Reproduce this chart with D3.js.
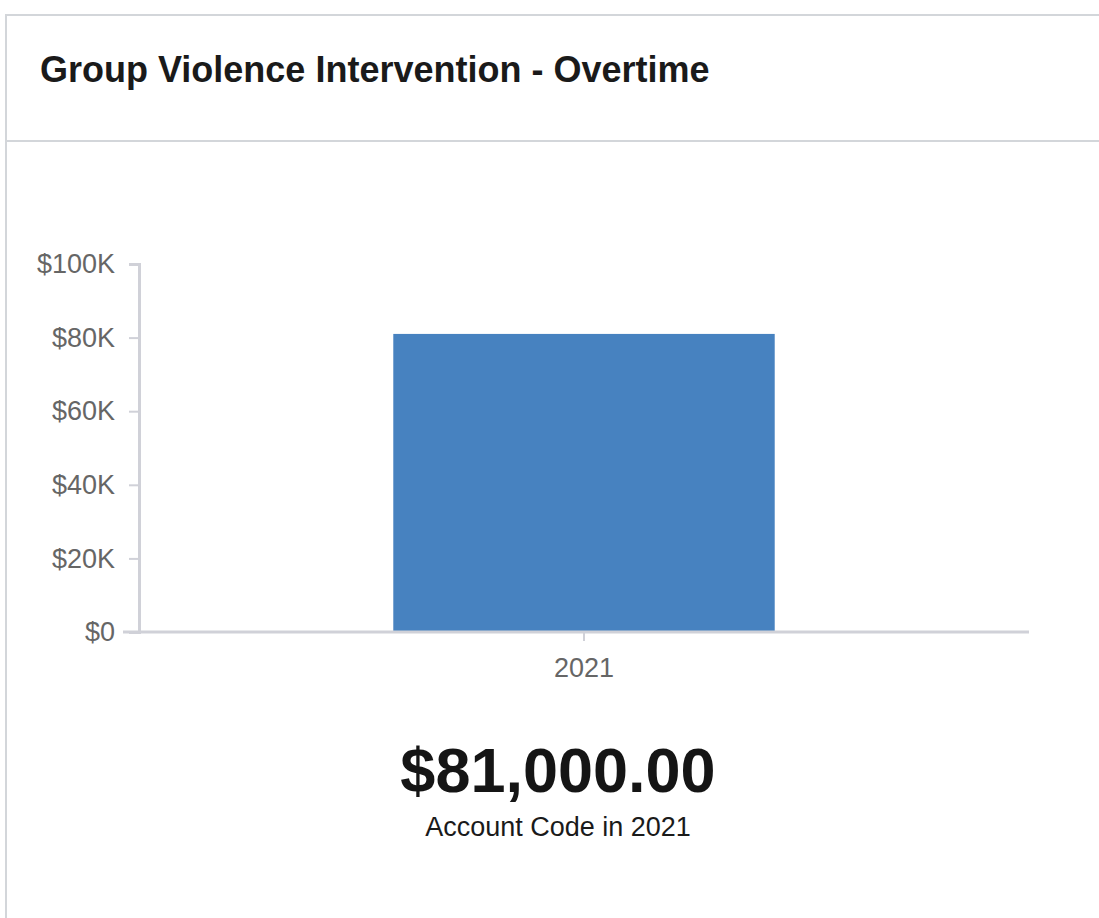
<!DOCTYPE html>
<html>
<head>
<meta charset="utf-8">
<script src="https://cdn.jsdelivr.net/npm/d3@7"></script>
<style>
  html, body { margin: 0; padding: 0; background: #fff; }
  body { width: 1099px; height: 918px; overflow: hidden; font-family: "Liberation Sans", Arial, sans-serif; }
</style>
</head>
<body>
<svg id="chart" width="1099" height="918"></svg>
<script>
// Spending by year for the account code
const years = ["2021"];
const amounts = [81000];
const yTicks = [0, 20000, 40000, 60000, 80000, 100000];
const title = "Group Violence Intervention - Overtime";
const subtitle = "Account Code in 2021";

const svg = d3.select("#chart");

// Card frame and header divider
svg.append("rect")
  .attr("x", 6).attr("y", 15)
  .attr("width", 1200).attr("height", 1000)
  .attr("fill", "#fff")
  .attr("stroke", "#d3d6da").attr("stroke-width", 2);
svg.append("line")
  .attr("x1", 6).attr("x2", 1099)
  .attr("y1", 141).attr("y2", 141)
  .attr("stroke", "#d3d6da").attr("stroke-width", 2);

svg.append("text")
  .attr("x", 40).attr("y", 82)
  .attr("font-size", 36).attr("font-weight", "bold")
  .attr("fill", "#1a1a1a")
  .text(title);

const plot = { left: 139, right: 1029, top: 264, bottom: 632 };

const x = d3.scaleBand().domain(years)
  .range([plot.left, plot.right]).padding(0.4);
const y = d3.scaleLinear().domain([0, 100000])
  .range([plot.bottom, plot.top]);

const fmtK = v => v === 0 ? "$0" : "$" + (v / 1000) + "K";

// Y axis
const yAxis = svg.append("g")
  .attr("transform", `translate(${plot.left},0)`)
  .call(d3.axisLeft(y).tickValues(yTicks).tickFormat(fmtK).tickSize(10).tickPadding(14));
yAxis.select(".domain").attr("stroke", "#d0d1d8").attr("stroke-width", 3);
yAxis.selectAll(".tick line").attr("stroke", "#d0d1d8").attr("stroke-width", 2);
yAxis.selectAll(".tick text")
  .attr("font-size", 27).attr("fill", "#666")
  .attr("font-family", "Liberation Sans, Arial, sans-serif");

// Bars
svg.selectAll("rect.bar")
  .data(amounts)
  .join("rect")
  .attr("class", "bar")
  .attr("x", (d, i) => x(years[i]))
  .attr("y", d => y(d))
  .attr("width", x.bandwidth())
  .attr("height", d => y(0) - y(d))
  .attr("fill", "#4782c0");

// X axis
const xAxis = svg.append("g")
  .attr("transform", `translate(0,${plot.bottom})`)
  .call(d3.axisBottom(x).tickSize(9).tickPadding(17).tickSizeOuter(0));
xAxis.select(".domain").attr("d", `M${plot.left - 16},0H${plot.right}`)
  .attr("stroke", "#d0d1d8").attr("stroke-width", 3);
xAxis.selectAll(".tick line").attr("stroke", "#d0d1d8").attr("stroke-width", 2);
xAxis.selectAll(".tick text")
  .attr("font-size", 27).attr("fill", "#666")
  .attr("font-family", "Liberation Sans, Arial, sans-serif");

// Headline value and caption
const fmtMoney = d3.format("$,.2f");
svg.append("text")
  .attr("x", 558).attr("y", 792)
  .attr("text-anchor", "middle")
  .attr("font-size", 63).attr("font-weight", "bold")
  .attr("fill", "#151515")
  .text(fmtMoney(amounts[0]));
svg.append("text")
  .attr("x", 558).attr("y", 836)
  .attr("text-anchor", "middle")
  .attr("font-size", 27)
  .attr("fill", "#1a1a1a")
  .text(subtitle);
</script>
</body>
</html>
